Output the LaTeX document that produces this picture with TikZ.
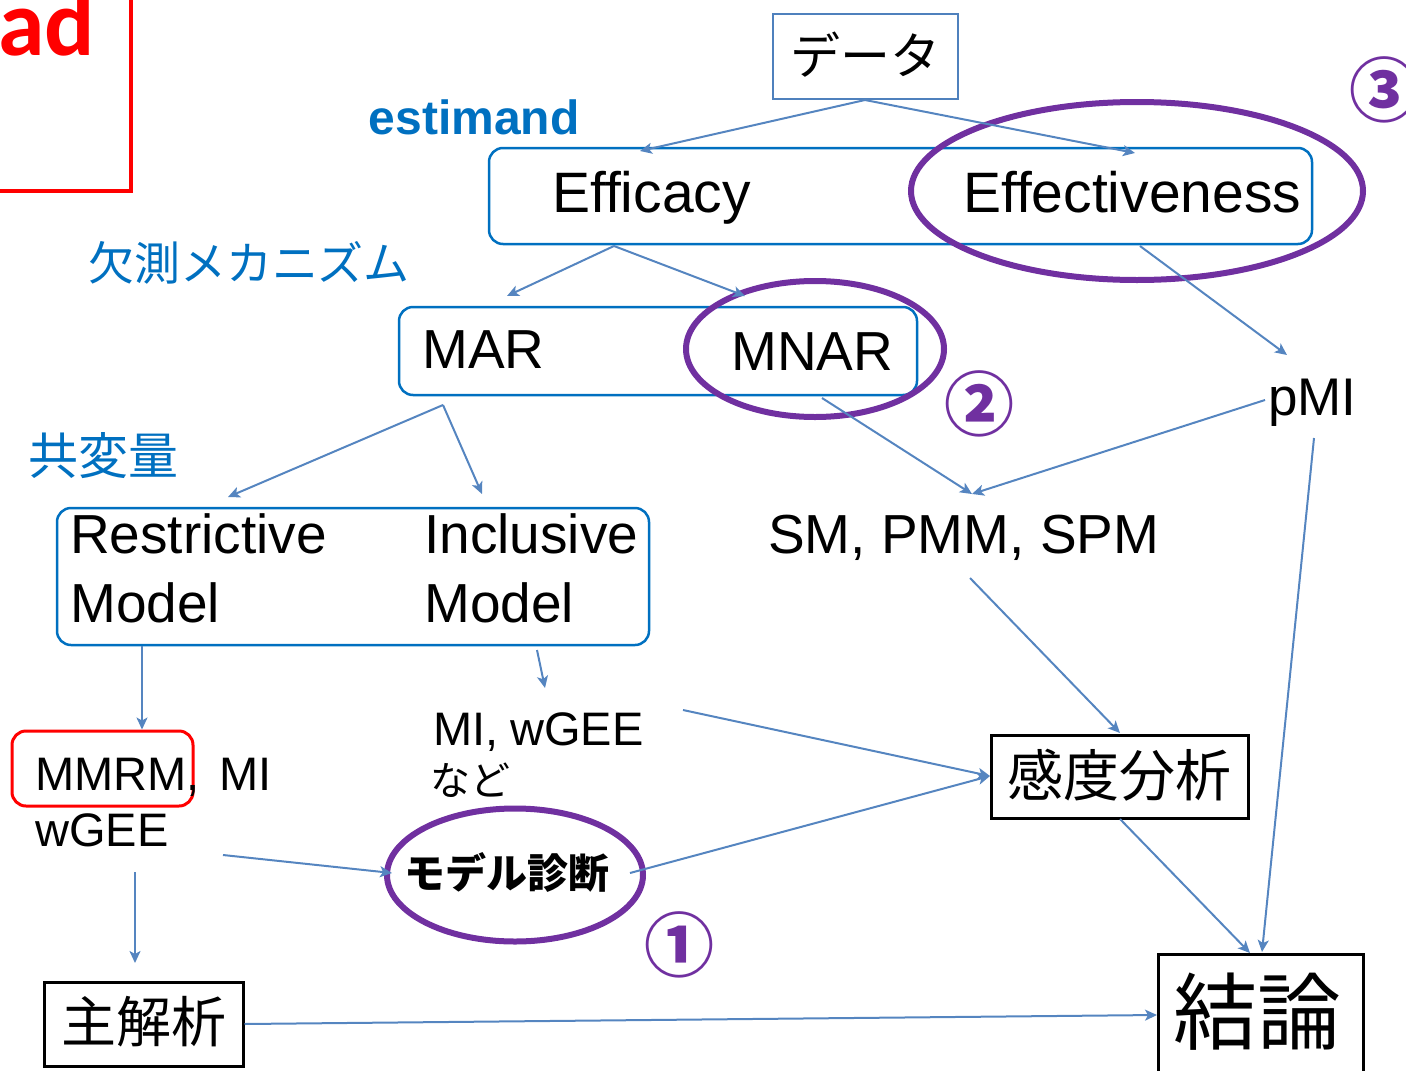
\documentclass[tikz,border=0pt]{standalone}
\usepackage{fontspec}
\setmainfont{Liberation Sans}
\newfontfamily\jp{Noto Sans CJK JP}
\newfontfamily\carlitofont{Carlito}
\usetikzlibrary{arrows.meta,shapes.geometric,calc}
\definecolor{boxblue}{HTML}{4F81BD}
\definecolor{mblue}{HTML}{0070C0}
\definecolor{arrblue}{HTML}{5585C0}
\definecolor{purp}{HTML}{7030A0}
\definecolor{red1}{HTML}{FF0000}
\tikzset{
  arr/.style={draw=arrblue, line width=2pt, -{Stealth[length=12pt,width=11pt,inset=3pt]}},
  rbox/.style={draw=mblue, line width=2.5pt, rounded corners=14pt, inner sep=0pt},
  kbox/.style={draw=black, line width=3pt, inner sep=0pt},
  txt/.style={inner sep=0pt, anchor=base west, font=\fontsize{55}{60}\selectfont},
  stxt/.style={inner sep=0pt, anchor=base west, font=\fontsize{47}{52}\selectfont},
  jtxt/.style={inner sep=0pt, font=\jp},
  bluelab/.style={inner sep=0pt, text=mblue, font=\jp\fontsize{46}{50}\selectfont},
  ring/.style={draw=purp, line width=6pt, ellipse, inner sep=0pt},
  num/.style={inner sep=0pt, text=purp, font=\jp\bfseries\fontsize{70}{74}\selectfont},
}
\begin{document}
\begin{tikzpicture}[x=1pt,y=-1pt]
\useasboundingbox (0,0) rectangle (1406,1071);
\begin{scope}
\clip (0,0) rectangle (1406,1071);
% red partial box top-left
\draw[red1, line width=4pt] (-20,-10) coordinate (rtl) -- (131,-10) -- (131,191) coordinate (rbr) -- (-20,191);
\node[inner sep=0pt, anchor=base west, text=red1, font=\carlitofont\bfseries\fontsize{94}{98}\selectfont] (ad) at (-2,55) {ad};

% boxes
\node[draw=boxblue, line width=2.5pt, minimum width=185pt, minimum height=85pt, inner sep=0pt] (data) at (865.5,56.5) {};
\node[jtxt, font=\jp\fontsize{50}{54}\selectfont] (datat) at (865,55) {データ};
\node[rbox, minimum width=823pt, minimum height=96pt] (effbox) at (900.5,196) {};
\node[rbox, minimum width=518pt, minimum height=88pt] (marbox) at (658,351) {};
\node[rbox, minimum width=592pt, minimum height=137pt] (covbox) at (353,576.5) {};
\node[draw=red1, line width=3pt, rounded corners=14pt, minimum width=181pt, minimum height=75pt, inner sep=0pt] (mmrmbox) at (102.5,768.5) {};
\node[kbox, minimum width=257pt, minimum height=83pt] (kando) at (1119.5,776.5) {};
\node[jtxt, font=\jp\fontsize{56}{60}\selectfont] (kandot) at (1119.5,775) {感度分析};
\node[kbox, minimum width=199pt, minimum height=84pt] (shu) at (143.5,1024) {};
\node[jtxt, font=\jp\fontsize{55}{60}\selectfont] (shut) at (143.5,1022) {主解析};
\node[kbox, minimum width=205pt, minimum height=172pt] (ketsu) at (1260.5,1040) {};
\node[jtxt, font=\jp\fontsize{84}{90}\selectfont] (ketsut) at (1257,1012) {結論};

% texts
\node[inner sep=0pt, text=mblue, font=\bfseries\fontsize{48}{52}\selectfont] (estimand) at (474,117) {estimand};
\node[txt, font=\fontsize{57}{60}\selectfont] (efficacy) at (552,212) {Efficacy};
\node[txt, font=\fontsize{57}{60}\selectfont] (effect) at (963,212) {Effectiveness};
\node[bluelab] (kesoku) at (249,263) {欠測メカニズム};
\node[txt] (mar) at (422,368) {MAR};
\node[txt] (mnar) at (731,370) {MNAR};
\node[txt, font=\fontsize{53}{58}\selectfont] (pmi) at (1268,415) {pMI};
\node[bluelab, font=\jp\fontsize{50}{54}\selectfont] (kyo) at (103,456) {共変量};
\node[txt] (restr) at (70,553) {Restrictive};
\node[txt] (restrm) at (70,622) {Model};
\node[txt] (incl) at (424,553) {Inclusive};
\node[txt] (inclm) at (424,622) {Model};
\node[txt] (sm) at (768,553) {SM, PMM, SPM};
\node[stxt] (mmrm) at (35,790) {MMRM,\hspace{20pt}MI};
\node[stxt] (wgee) at (35,846) {wGEE};
\node[stxt] (miwgee) at (433,745) {MI,\hspace{12pt}wGEE};
\node[jtxt, anchor=west, font=\jp\fontsize{40}{44}\selectfont] (nado) at (430,780) {など};

% purple rings
\node[ring, minimum width=452pt, minimum height=178pt] (ring3) at (1137,191) {};
\node[ring, minimum width=258pt, minimum height=136pt] (ring2) at (815,349) {};
\node[ring, minimum width=256pt, minimum height=133pt] (shindan) at (515,875) {};
\node[inner sep=0pt, font=\jp\bfseries\fontsize{41}{46}\selectfont] (shindant) at (507,872) {モデル診断};
\node[num] (n3) at (1384,90) {③};
\node[num] (n2) at (979,404) {②};
\node[num] (n1) at (679,945) {①};

% connector end points
\coordinate (dtop) at (865,100);
\coordinate (effin) at (640,151);
\coordinate (effein) at (1135,153);
\coordinate (effb) at (614,246);
\coordinate (marin) at (507,296);
\coordinate (mnarin) at (745,296);
\coordinate (effr) at (1140,246);
\coordinate (pmiin) at (1287,355);
\coordinate (marb) at (443,405);
\coordinate (restin) at (228,497);
\coordinate (inclin) at (482,494);
\coordinate (mnarb) at (822,398);
\coordinate (pmil) at (1265,400);
\coordinate (smtop) at (972,494);
\coordinate (smb) at (970,578);
\coordinate (kandoin) at (1120,733);
\coordinate (inclb) at (537,650);
\coordinate (miin) at (545,688);
\coordinate (mie) at (683,710);
\coordinate (kandol) at (990,776);
\coordinate (wge) at (223,855);
\coordinate (shinl) at (392,873);
\coordinate (shinr) at (630,873);
\coordinate (wgb) at (135,872);
\coordinate (shuin) at (135,963);
\coordinate (ketsul) at (1157,1015);
\coordinate (kandob) at (1120,819);
\coordinate (ketsuin1) at (1250,953);
\coordinate (pmib) at (1314,438);
\coordinate (ketsuin2) at (1262,952);

% connectors
\draw[arr] (dtop) -- (effin);
\draw[arr] (dtop) -- (effein);
\draw[arr] (effb) -- (marin);
\draw[arr] (effb) -- (mnarin);
\draw[arr] (effr) -- (pmiin);
\draw[arr] (marb) -- (restin);
\draw[arr] (marb) -- (inclin);
\draw[arr] (mnarb) -- (smtop);
\draw[arr] (pmil) -- (smtop);
\draw[arr] (smb) -- (kandoin);
\draw[arr] (covbox.south -| 142,0) -- (mmrmbox.north -| 142,0);
\draw[arr] (inclb) -- (miin);
\draw[arr] (mie) -- (kandol);
\draw[arr] (wge) -- (shinl);
\draw[arr] (shinr) -- (kandol);
\draw[arr] (wgb) -- (shuin);
\draw[arr] (shu.east) -- (ketsul);
\draw[arr] (kandob) -- (ketsuin1);
\draw[arr] (pmib) -- (ketsuin2);
\end{scope}
\end{tikzpicture}
\end{document}
